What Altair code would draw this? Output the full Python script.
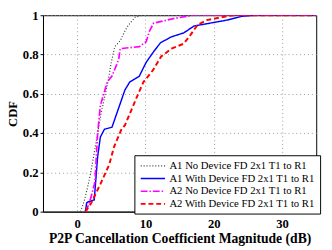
import altair as alt
import pandas as pd

series_names = [
    "A1 No Device FD 2x1 T1 to R1",
    "A1 With Device FD 2x1 T1 to R1",
    "A2 No Device FD 2x1 T1 to R1",
    "A2 With Device FD 2x1 T1 to R1",
]

a1_no_x = [0.5, 1.0, 1.5, 2.0, 2.5, 3.0, 3.5, 4.0, 4.5, 5.0, 5.5, 6.3, 7.0, 7.5, 8.5, 9.5, 35]
a1_no_y = [0.0, 0.05, 0.12, 0.2, 0.3, 0.4, 0.5, 0.58, 0.66, 0.76, 0.84, 0.87, 0.92, 0.95, 0.99, 1.0, 1.0]

a1_with_x = [1.2, 1.4, 1.6, 2.5, 3.0, 3.4, 4.0, 5.1, 5.8, 6.5, 7.0, 7.7, 9.1, 10.1, 11.1, 12.2, 13.8, 15.6, 17.1, 19.5, 21.9, 24.2, 26.0, 35]
a1_with_y = [0.0, 0.045, 0.05, 0.06, 0.28, 0.38, 0.42, 0.43, 0.5, 0.57, 0.62, 0.66, 0.69, 0.76, 0.81, 0.86, 0.89, 0.91, 0.945, 0.96, 0.975, 0.995, 1.0, 1.0]

a2_no_x = [1.3, 2.0, 2.6, 3.0, 3.4, 4.4, 5.1, 5.8, 6.1, 6.3, 9.1, 10.1, 10.6, 11.2, 14.4, 17.0, 35]
a2_no_y = [0.0, 0.07, 0.15, 0.4, 0.54, 0.66, 0.69, 0.75, 0.78, 0.83, 0.84, 0.865, 0.92, 0.96, 0.985, 1.0, 1.0]

a2_with_x = [1.2, 2.0, 3.4, 4.7, 5.4, 6.5, 7.0, 8.7, 9.7, 11.1, 12.3, 13.8, 15.6, 16.6, 17.6, 19.0, 21.9, 23.0, 35]
a2_with_y = [0.0, 0.04, 0.14, 0.24, 0.33, 0.42, 0.44, 0.58, 0.66, 0.72, 0.79, 0.83, 0.855, 0.9, 0.95, 0.975, 0.995, 1.0, 1.0]

x_ticks = [0, 10, 20, 30]
y_ticks = [0, 0.2, 0.4, 0.6, 0.8, 1]

series_x = [a1_no_x, a1_with_x, a2_no_x, a2_with_x]
series_y = [a1_no_y, a1_with_y, a2_no_y, a2_with_y]

rows = []
for name, xs, ys in zip(series_names, series_x, series_y):
    for i, (x, y) in enumerate(zip(xs, ys)):
        rows.append({"series": name, "x": x, "y": y, "i": i})
df = pd.DataFrame(rows)

colors = ["#333333", "#0000ff", "#ff00ff", "#ff0000"]
dashes = [[1, 2], [1, 0], [7, 2, 1.5, 2], [5, 3]]
widths = [1.2, 2, 2, 2]

serif = "Liberation Serif"

chart = alt.Chart(df).mark_line(clip=True).encode(
    x=alt.X("x:Q", scale=alt.Scale(domain=[-5, 35], nice=False),
            axis=alt.Axis(values=x_ticks, title="P2P Cancellation Coefficient Magnitude (dB)",
                          titleFontSize=14,
                          labelPadding=6, titlePadding=2, ticks=False, labelFlush=False)),
    y=alt.Y("y:Q", scale=alt.Scale(domain=[0, 1], nice=False),
            axis=alt.Axis(values=y_ticks, format="~g", title="CDF",
                          ticks=True, tickSize=3, tickColor="black",
                          labelPadding=2, titlePadding=3, labelFlush=False)),
    color=alt.Color("series:N", scale=alt.Scale(domain=series_names, range=colors),
                    legend=alt.Legend(title=None, orient="none", legendX=94, legendY=144,
                                      symbolType="M-2.5,0H2.5", symbolSize=100, symbolStrokeWidth=2,
                                      symbolOffset=8, labelOffset=11,
                                      labelFont=serif, labelFontSize=11, labelColor="black",
                                      strokeColor="black", fillColor="white", padding=5,
                                      rowPadding=2)),
    strokeDash=alt.StrokeDash("series:N", scale=alt.Scale(domain=series_names, range=dashes)),
    strokeWidth=alt.StrokeWidth("series:N", scale=alt.Scale(domain=series_names, range=widths)),
    order="i:Q",
).properties(
    width=281, height=202,
    autosize=alt.AutoSizeParams(type="none"),
    padding={"left": 36, "top": 4, "right": 8, "bottom": 36},
).configure_view(
    stroke="black", strokeWidth=1
).configure_axis(
    labelFont=serif, titleFont=serif, labelFontSize=13, titleFontSize=13,
    labelFontWeight="bold", titleFontWeight="bold", labelColor="black", titleColor="black",
    domainColor="black",
    gridColor="#999999", gridDash=[1, 3], gridOpacity=1,
)

chart.save("out.html", embed_options={"renderer": "svg", "actions": False})
